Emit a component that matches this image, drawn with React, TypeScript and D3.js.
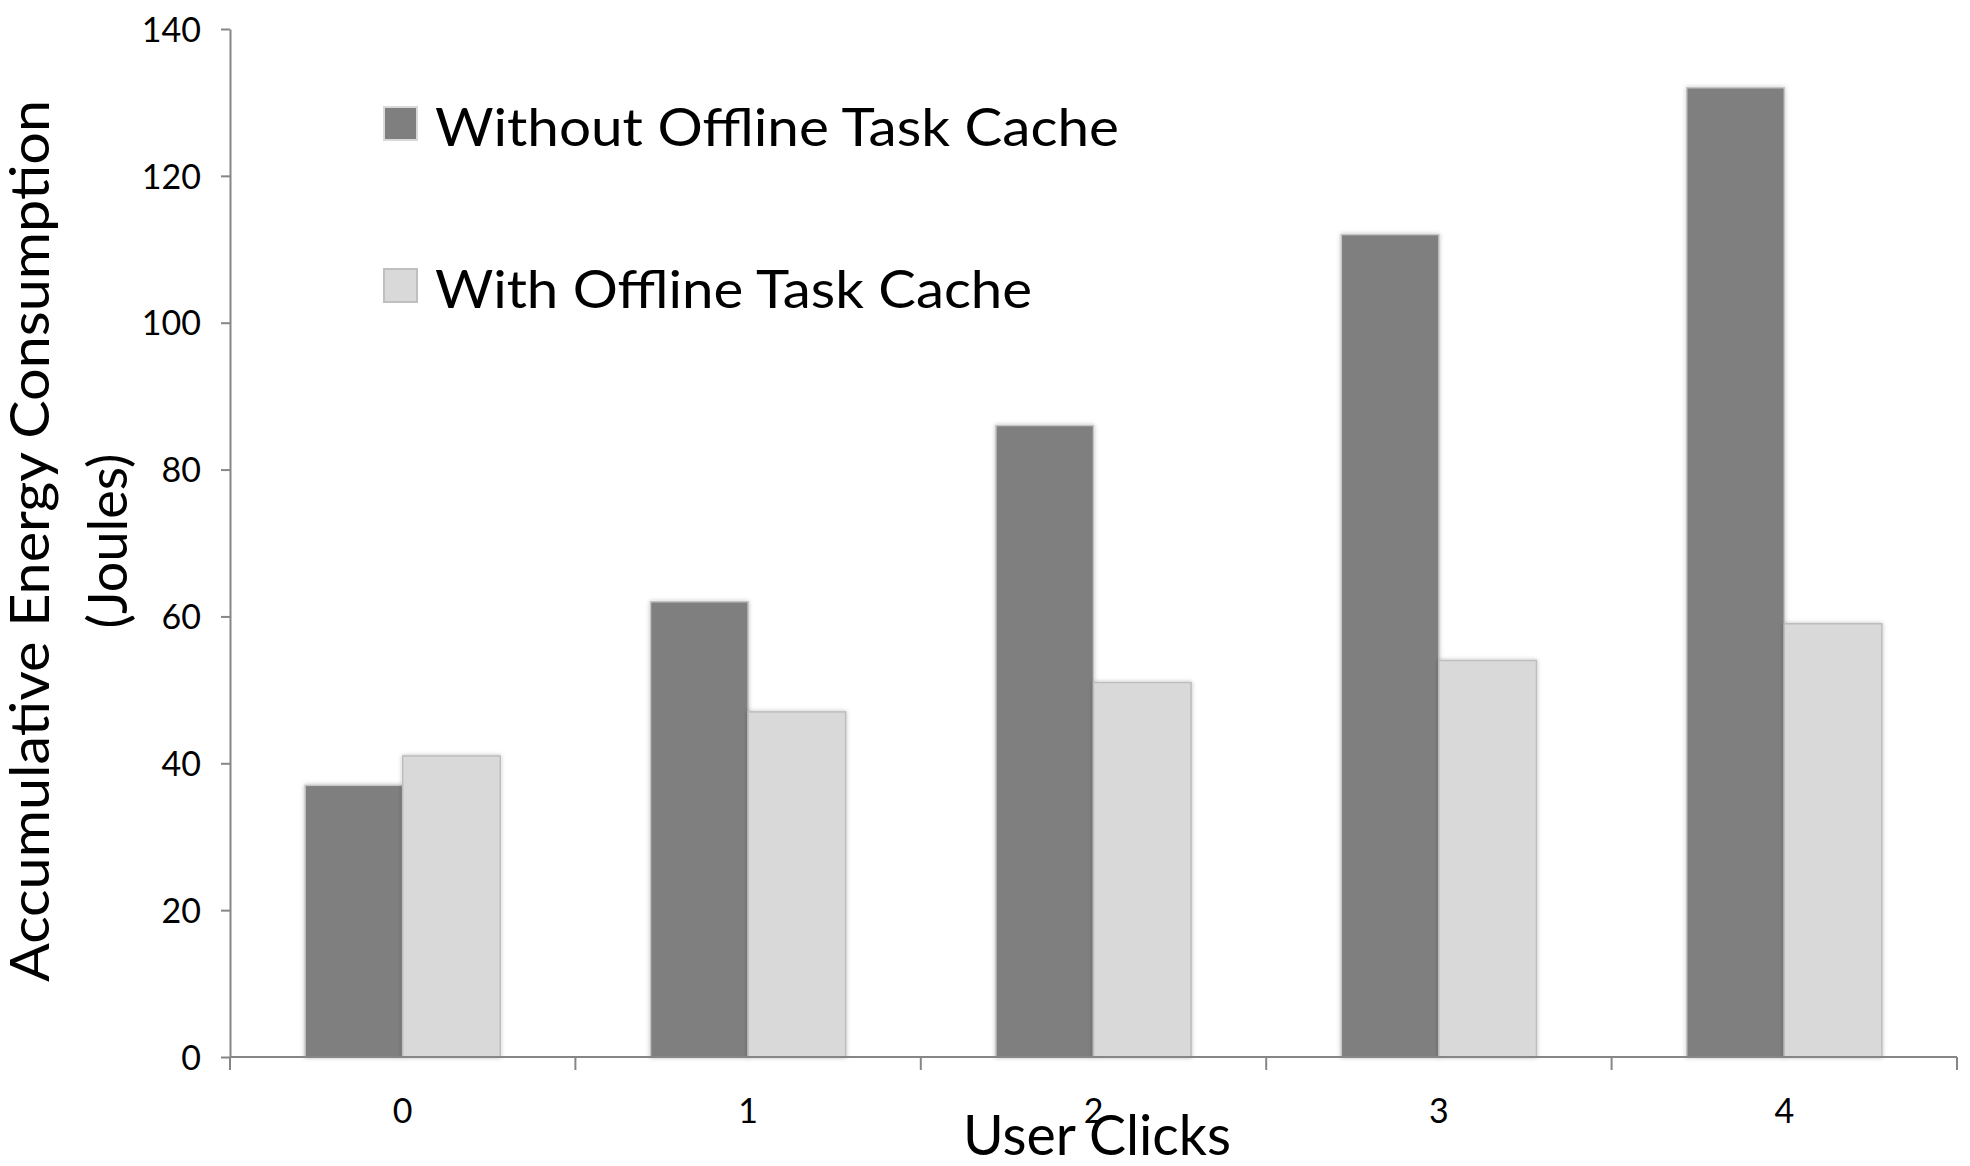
import React, { useEffect, useRef } from "react";
import * as d3 from "d3";

const categories = ["0", "1", "2", "3", "4"];
const seriesNames = ["Without Offline Task Cache", "With Offline Task Cache"];
const withoutCache = [37, 62, 86, 112, 132];
const withCache = [41, 47, 51, 54, 59];
const yTicks = [0, 20, 40, 60, 80, 100, 120, 140];

const colors = ["#7f7f7f", "#d9d9d9"];
const borders = ["#c4c4c4", "#bdbdbd"];
const FONT = "Lato, 'Open Sans', sans-serif";

const App = () => {
  const svgRef = useRef<SVGSVGElement>(null);

  useEffect(() => {
    const width = 1970;
    const height = 1166;
    const margin = { top: 29, right: 13, bottom: 109, left: 230 };

    const svg = d3.select(svgRef.current);
    svg.selectAll("*").remove();
    svg.attr("width", width).attr("height", height);

    const defs = svg.append("defs");
    defs.append("filter")
      .attr("id", "shadow")
      .attr("x", "-10%").attr("y", "-10%")
      .attr("width", "120%").attr("height", "120%")
      .append("feDropShadow")
      .attr("dx", 0).attr("dy", 0)
      .attr("stdDeviation", 2)
      .attr("flood-color", "#000")
      .attr("flood-opacity", 0.25);

    const x0 = d3.scaleBand<string>()
      .domain(categories)
      .range([margin.left, width - margin.right])
      .paddingInner(0.435)
      .paddingOuter(0.2175);

    const x1 = d3.scaleBand<number>()
      .domain([0, 1])
      .range([0, x0.bandwidth()]);

    const y = d3.scaleLinear()
      .domain([0, 140])
      .range([height - margin.bottom, margin.top]);

    const rows = categories.map((c, i) => ({
      cat: c,
      values: [withoutCache[i], withCache[i]],
    }));

    // bars
    const groups = svg.append("g")
      .selectAll("g")
      .data(rows)
      .enter()
      .append("g")
      .attr("transform", d => `translate(${x0(d.cat)},0)`);

    groups.selectAll("rect")
      .data(d => d.values.map((v, s) => ({ v, s })))
      .enter()
      .append("rect")
      .attr("x", d => x1(d.s) as number)
      .attr("y", d => y(d.v))
      .attr("width", x1.bandwidth())
      .attr("height", d => y(0) - y(d.v))
      .attr("fill", d => colors[d.s])
      .attr("stroke", d => borders[d.s])
      .attr("stroke-width", 1.5)
      .attr("filter", "url(#shadow)");

    const axisColor = "#868686";

    // y axis
    const yAxis = svg.append("g")
      .attr("transform", `translate(${margin.left},0)`)
      .call(
        d3.axisLeft(y)
          .tickValues(yTicks)
          .tickSize(9)
          .tickPadding(20)
          .tickSizeOuter(0)
      );
    yAxis.select(".domain").attr("stroke", axisColor).attr("stroke-width", 2);
    yAxis.selectAll(".tick line").attr("stroke", axisColor).attr("stroke-width", 2);
    yAxis.selectAll(".tick text")
      .attr("fill", "#000")
      .attr("font-family", FONT)
      .attr("font-size", 34)
      .attr("dy", "0.36em");

    // x axis: line with ticks at category boundaries
    const x0Axis = svg.append("g");
    const yBase = y(0);
    x0Axis.append("line")
      .attr("x1", margin.left).attr("x2", width - margin.right)
      .attr("y1", yBase).attr("y2", yBase)
      .attr("stroke", axisColor).attr("stroke-width", 2);

    const step = x0.step();
    const bounds = d3.range(categories.length + 1).map(i => margin.left + i * step);
    x0Axis.selectAll(".xtick")
      .data(bounds)
      .enter()
      .append("line")
      .attr("x1", d => d).attr("x2", d => d)
      .attr("y1", yBase).attr("y2", yBase + 13)
      .attr("stroke", axisColor).attr("stroke-width", 2);

    x0Axis.selectAll(".xlabel")
      .data(categories)
      .enter()
      .append("text")
      .attr("x", d => (x0(d) as number) + x0.bandwidth() / 2)
      .attr("y", 1123)
      .attr("text-anchor", "middle")
      .attr("font-family", FONT)
      .attr("font-size", 34)
      .text(d => d);

    // axis titles
    svg.append("text")
      .attr("x", 1097)
      .attr("y", 1155)
      .attr("text-anchor", "middle")
      .attr("font-family", FONT)
      .attr("font-size", 56)
      .attr("textLength", 268)
      .attr("lengthAdjust", "spacingAndGlyphs")
      .text("User Clicks");

    const yTitle = svg.append("g")
      .attr("transform", "translate(49,541) rotate(-90)");
    yTitle.append("text")
      .attr("x", 0).attr("y", 0)
      .attr("text-anchor", "middle")
      .attr("font-family", FONT)
      .attr("font-size", 54)
      .attr("textLength", 882)
      .attr("lengthAdjust", "spacingAndGlyphs")
      .text("Accumulative Energy Consumption");
    yTitle.append("text")
      .attr("x", 0).attr("y", 78)
      .attr("text-anchor", "middle")
      .attr("font-family", FONT)
      .attr("font-size", 54)
      .text("(Joules)");

    // legend
    const legendY = [106, 268];
    const legend = svg.append("g")
      .selectAll("g")
      .data(seriesNames)
      .enter()
      .append("g")
      .attr("transform", (d, i) => `translate(383,${legendY[i]})`);

    legend.append("rect")
      .attr("x", 1).attr("y", 1)
      .attr("width", 33).attr("height", 33)
      .attr("fill", (d, i) => colors[i])
      .attr("stroke", (d, i) => (i === 0 ? "#d9d9d9" : "#bfbfbf"))
      .attr("stroke-width", 2);

    legend.append("text")
      .attr("x", 52)
      .attr("y", 40)
      .attr("font-family", FONT)
      .attr("font-size", 53)
      .attr("textLength", (d, i) => (i === 0 ? 684 : 597))
      .attr("lengthAdjust", "spacingAndGlyphs")
      .text(d => d);
  }, []);

  return (
    <svg
      ref={svgRef}
      style={{ position: "absolute", left: 0, top: 0, display: "block", background: "#fff" }}
    ></svg>
  );
};

export default App;
